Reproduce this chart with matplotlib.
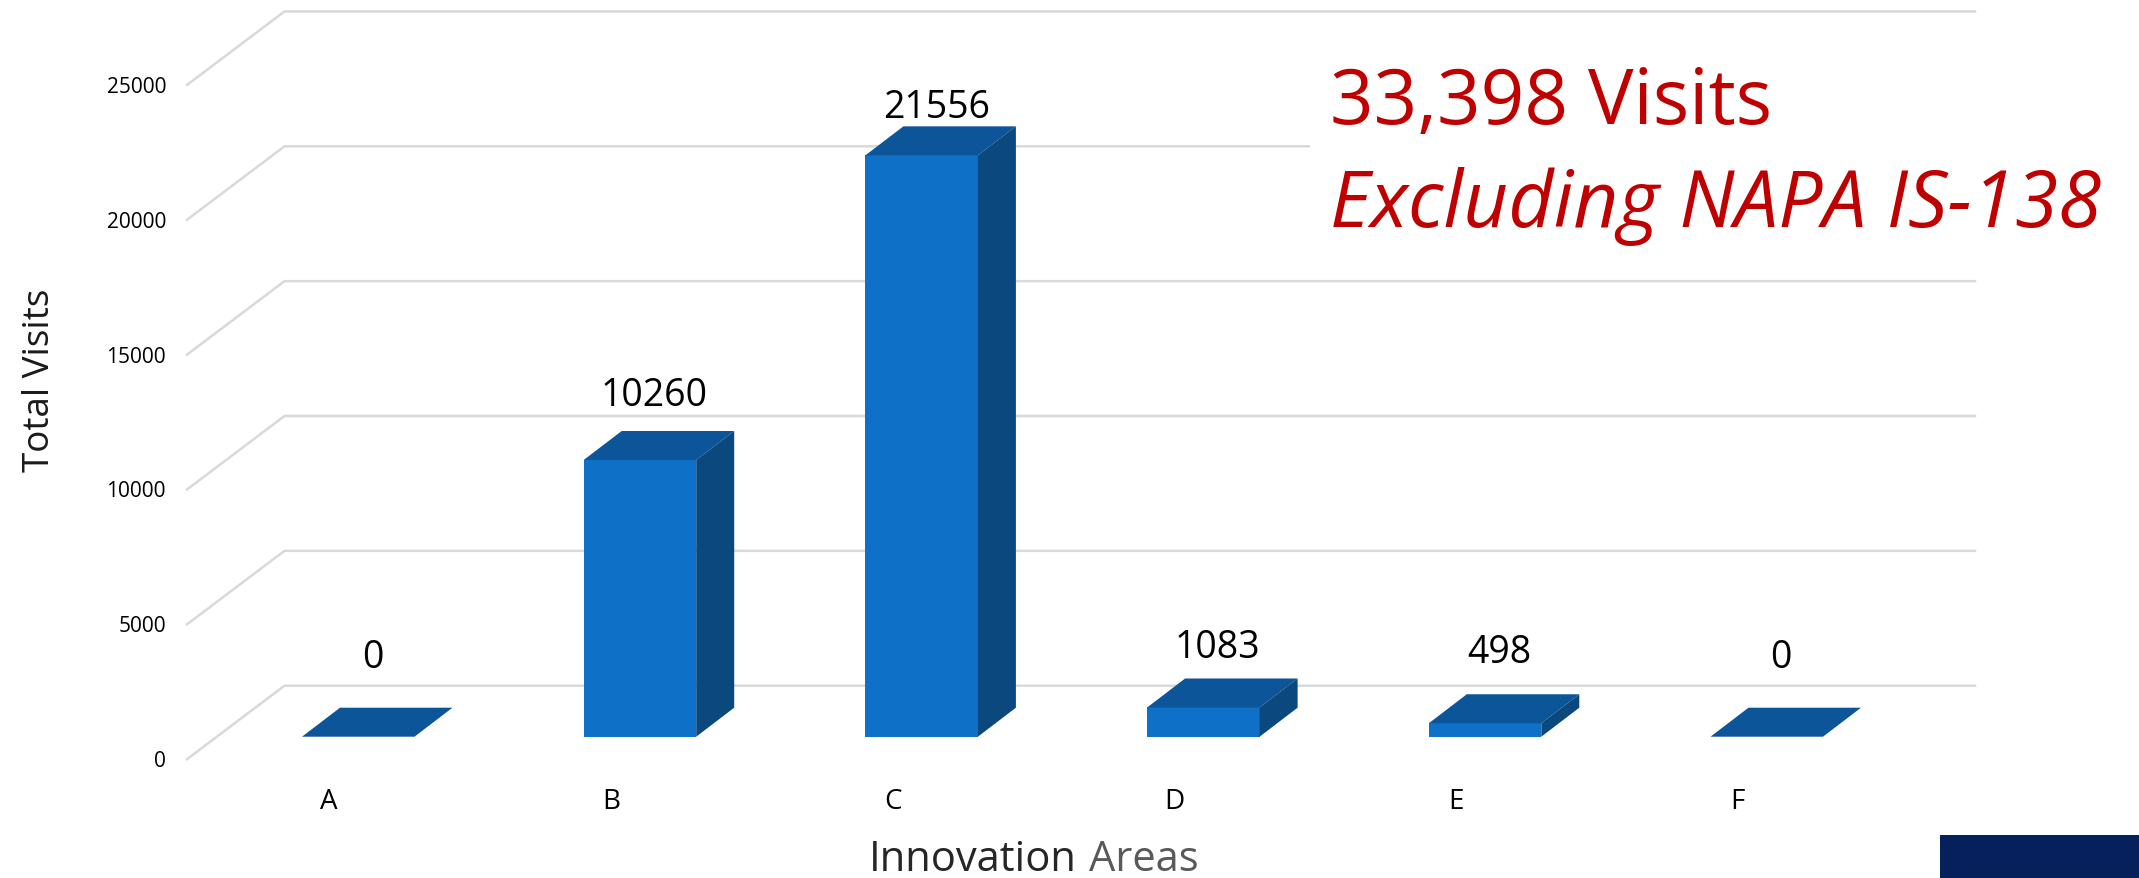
# coding=utf-8

import matplotlib
matplotlib.use('Agg')
import matplotlib.pyplot as plt
from matplotlib.patches import Polygon, Rectangle

plt.rcParams['font.family'] = ['Open Sans', 'DejaVu Sans']

areas = ['A', 'B', 'C', 'D', 'E', 'F']
visits = [0, 10260, 21556, 1083, 498, 0]
y_ticks = [0, 5000, 10000, 15000, 20000, 25000]

# label height above the back edge of each bar, in pixels
label_lift = [51, 36, 19, 31, 42, 51]

W, H = 2139, 879
cat_px = 281.7   # pixels between two categories
val_px = 0.02697   # pixels per visit
x0_px = 358.25   # centre of first bar
y0_px = 737.7   # bar floor
bar_w = 112.5 / cat_px
bar_dx, bar_dy = 38 / cat_px, 29 / val_px

fig = plt.figure(figsize=(W / 100, H / 100), dpi=100)
ax = fig.add_axes([0, 0, 1, 1])
ax.set_xlim(-x0_px / cat_px, (W - x0_px) / cat_px)
ax.set_ylim(-(H - y0_px) / val_px, y0_px / val_px)
ax.axis('off')


def px_x(d):
    return (d - x0_px) / cat_px


def px_dy(d):
    return d / val_px


# floor and back wall gridlines
for v in y_ticks:
    xs = [px_x(187), px_x(284.5), px_x(1975)]
    ys = [v - px_dy(22.5), v + px_dy(51), v + px_dy(51)]
    ax.plot(xs, ys, color='#d9d9d9', lw=1.8, solid_joinstyle='miter', zorder=1)
    ax.text(px_x(166), v - px_dy(22.5) - px_dy(1.5), str(v), ha='right', va='center',
            fontsize=15, color='black', zorder=5)

# white box behind the headline, it hides the gridline running under it
ax.add_patch(Rectangle((px_x(1310), px_dy(y0_px - 270)), px_x(W) - px_x(1310), px_dy(250),
                       facecolor='white', edgecolor='none', zorder=2))

# 3d look: front face is a bar, top and side are polygons
ax.bar(range(len(areas)), visits, width=bar_w, color='#0e70c6', zorder=3)
for i, v in enumerate(visits):
    l, r = i - bar_w / 2, i + bar_w / 2
    ax.add_patch(Polygon([(l, v), (r, v), (r + bar_dx, v + bar_dy), (l + bar_dx, v + bar_dy)],
                         facecolor='#0c5599', edgecolor='none', zorder=3))
    if v > 0:
        ax.add_patch(Polygon([(r, 0), (r + bar_dx, bar_dy), (r + bar_dx, v + bar_dy), (r, v)],
                             facecolor='#0a487d', edgecolor='none', zorder=3))
    ax.text(i + 14.5 / cat_px, v + bar_dy + px_dy(label_lift[i]), str(v), ha='center', va='center',
            fontsize=27, color='black', zorder=5)
    ax.text(i - 29 / cat_px, px_dy(y0_px - 802), areas[i], ha='center', va='center',
            fontsize=20, color='black', zorder=5)

# axis titles
ax.text(px_x(40), px_dy(y0_px - 380), 'Total Visits', rotation=90, ha='center', va='center',
        fontsize=26.5, color='#1a1a1a', zorder=5)
ax.text(px_x(869), px_dy(y0_px - 860), 'Innovation', ha='left', va='center',
        fontsize=30, color='#262626', zorder=5)
ax.text(px_x(1089), px_dy(y0_px - 860), 'Areas', ha='left', va='center',
        fontsize=30, color='#595959', zorder=5)

# headline
ax.text(px_x(1330), px_dy(y0_px - 104), '33,398 Visits', ha='left', va='center',
        fontsize=55, color='#c00000', zorder=5)
ax.text(px_x(1330), px_dy(y0_px - 207), 'Excluding NAPA IS-138', ha='left', va='center',
        fontsize=56.3, style='italic', color='#c00000', zorder=5)

# corner block
ax.add_patch(Rectangle((px_x(1940), px_dy(y0_px - H)), px_x(W) - px_x(1940), px_dy(H - 836),
                       facecolor='#05205a', edgecolor='none', zorder=4))

fig.savefig('out.png', dpi=100)
